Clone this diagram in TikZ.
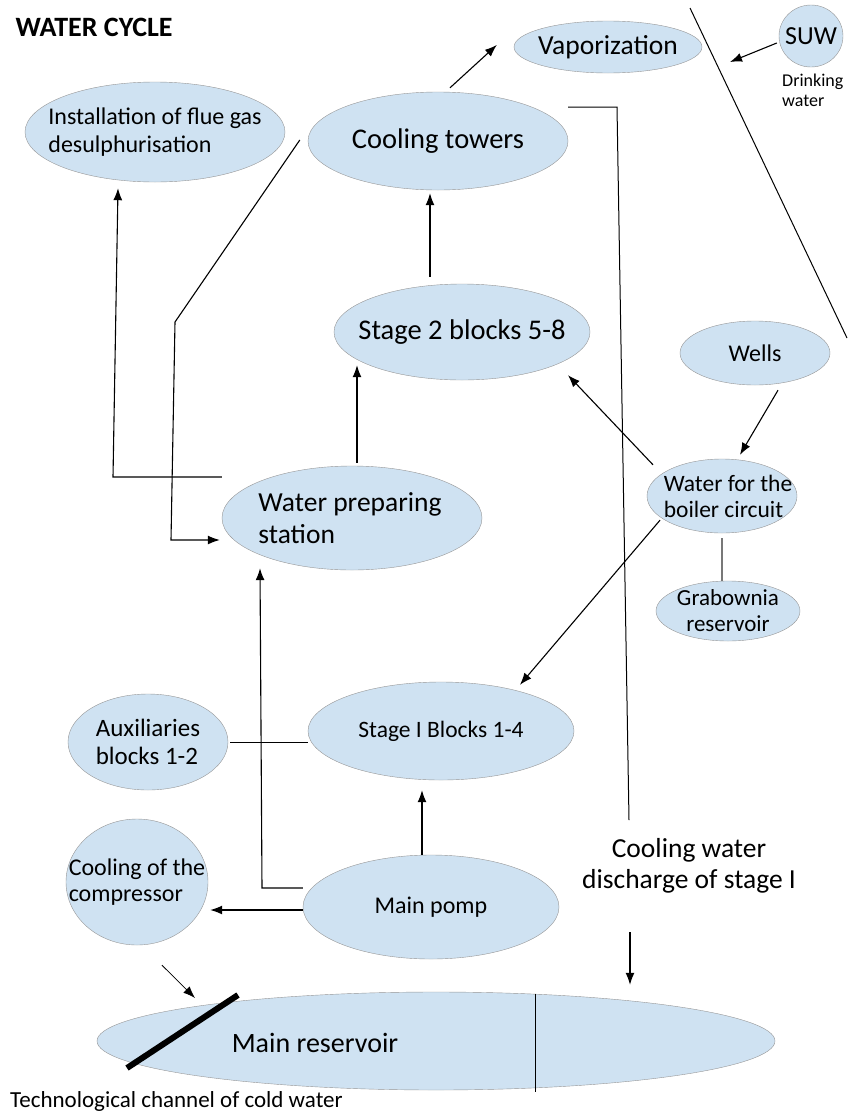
\documentclass[tikz,border=0pt]{standalone}
\usepackage{fontspec}
\setmainfont{Carlito}
\usetikzlibrary{shapes.geometric,arrows.meta}
\definecolor{pool}{RGB}{207,226,242}
\definecolor{rim}{RGB}{150,150,150}
\newcommand\txtsize[2]{\fontsize{#1}{#2}\selectfont}
\tikzset{
  pond/.style n args={2}{ellipse,draw=rim,fill=pool,inner sep=0pt,
    minimum width=#1,minimum height=#2},
  arr/.style={-{Latex[length=12pt,width=9pt]},line width=1.1pt},
  pipe/.style={line width=1pt}
}
\begin{document}
\begin{tikzpicture}[x=1pt,y=-1pt]
\useasboundingbox (0,0) rectangle (847,1114);
% heading and loose texts
\node[anchor=west,font=\bfseries\txtsize{28}{32}] (title) at (12,27) {WATER CYCLE};
\node[anchor=north west,align=left,inner sep=0pt,font=\txtsize{18}{20}] (drinkTxt) at (782,74) {Drinking\\water};
\node[align=center,font=\txtsize{27.5}{31}] (dis) at (689,866) {Cooling water\\discharge of stage I};
\node[anchor=west,inner sep=0pt,font=\txtsize{23}{26}] (channel) at (10,1101) {Technological channel of cold water};
% ponds
\node[pond={188pt}{52pt},label={[font=\txtsize{27.5}{30}]center:Vaporization}] (vap) at (608,47) {};
\node[pond={64pt}{62pt},label={[font=\txtsize{26}{30}]center:SUW}] (suw) at (811,36) {};
\node[pond={260pt}{100pt},label={[align=left,font=\txtsize{24}{28}]center:Installation of flue gas\\desulphurisation}] (fgd) at (155,132) {};
\node[pond={260pt}{98pt},label={[font=\txtsize{28.5}{30}]center:Cooling towers}] (towers) at (438,141) {};
\node[pond={256pt}{96pt},label={[font=\txtsize{28.5}{30}]center:Stage 2 blocks 5-8}] (stage2) at (462,332) {};
\node[pond={150pt}{64pt},label={[font=\txtsize{24}{26}]center:Wells}] (wells) at (755,353) {};
\node[pond={150pt}{74pt},label={[xshift=6pt,align=left,font=\txtsize{23.5}{26}]center:Water for the\\boiler circuit}] (boiler) at (722,496) {};
\node[pond={144pt}{60pt},label={[align=center,font=\txtsize{23}{26}]center:Grabownia\\reservoir}] (grab) at (728,611) {};
\node[pond={260pt}{104pt},label={[xshift=-2pt,align=left,font=\txtsize{27.5}{32}]center:Water preparing\\station}] (wps) at (352,518) {};
\node[pond={266pt}{98pt},label={[font=\txtsize{23.5}{26}]center:Stage I Blocks 1-4}] (stage1) at (441,731) {};
\node[pond={160pt}{96pt},label={[align=left,font=\txtsize{25}{28}]center:Auxiliaries\\blocks 1-2}] (aux) at (148,742) {};
\node[pond={256pt}{104pt},label={[font=\txtsize{24}{26}]center:Main pomp}] (pump) at (431,907) {};
\node[pond={142pt}{126pt},label={[align=left,font=\txtsize{24}{26}]center:Cooling of the\\compressor}] (comp) at (137,882) {};
\node[pond={678pt}{98pt}] (res) at (436,1041) {};
\node[font=\txtsize{28}{30}] (resname) at (315,1043) {Main reservoir};
% free ends and bends
\coordinate (drink) at (730,62);
\coordinate (sepTop) at (690,8);
\coordinate (sepBot) at (847,338);
\coordinate (disTop) at (617,107);
\coordinate (disBot) at (629,820);
\coordinate (disOut) at (630,932);
\coordinate (bendA) at (175,322);
\coordinate (bendB) at (171,540);
\coordinate (bendC) at (113,477);
\coordinate (bendD) at (262,888);
\coordinate (resIn) at (195,998);
% connectors
\draw[pipe] (sepTop) -- (sepBot);
\draw[arr] ([shift={(-2,7)}]suw.west) -- (drink);
\draw[arr] ([shift={(12,-4)}]towers.north) -- ([shift={(-17,-2)}]vap.west);
\draw[pipe] ([shift={(0,-34)}]towers.east) -- (disTop) -- (disBot);
\draw[arr,shorten >=7pt] (disOut) -- (disOut |- res.north);
\draw[arr] ([shift={(-32,-7)}]stage2.north) -- ([shift={(-8,3)}]towers.south);
\draw[arr] ([shift={(5,-3)}]wps.north) -- ([shift={(-105,-15)}]stage2.south);
\draw[arr] ([shift={(23,5)}]wells.south) -- ([shift={(18,-4)}]boiler.north);
\draw[line width=1.6pt,rim!80!black] ([yshift=-5pt]boiler.south) -- (boiler.south |- grab.north);
\draw[arr] ([shift={(-69,6)}]boiler.north) -- ([shift={(106,-5)}]stage2.south);
\draw[arr] ([shift={(-62,-13)}]boiler.south) -- ([shift={(79,3)}]stage1.north);
\draw[arr,shorten >=2pt] ([shift={(-8,-1)}]towers.west) -- (bendA) -- (bendB) -- (bendB -| wps.west);
\draw[arr] ([shift={(0,-41)}]wps.west) -- (bendC) -- ([shift={(-37,6)}]fgd.south);
\draw[arr] ([shift={(0,-19)}]pump.west) -- (bendD) -- ([shift={(-92,-2)}]wps.south);
\draw[arr] ([xshift=-9pt]pump.north) -- ([shift={(-19,10)}]stage1.south);
\draw[pipe] ([xshift=2pt]aux.east) -- (aux.east -| stage1.west);
\draw[arr,shorten >=2pt] ([yshift=-3pt]pump.west) -- ([yshift=-3pt]pump.west -| comp.east);
\draw[arr,line width=0.8pt] ([shift={(25,20)}]comp.south) -- (resIn);
\draw[line width=6pt] (127,1068) -- (238,995);
\draw[pipe] ([shift={(99,2)}]res.north) -- ([shift={(99,2)}]res.south);
\end{tikzpicture}
\end{document}
